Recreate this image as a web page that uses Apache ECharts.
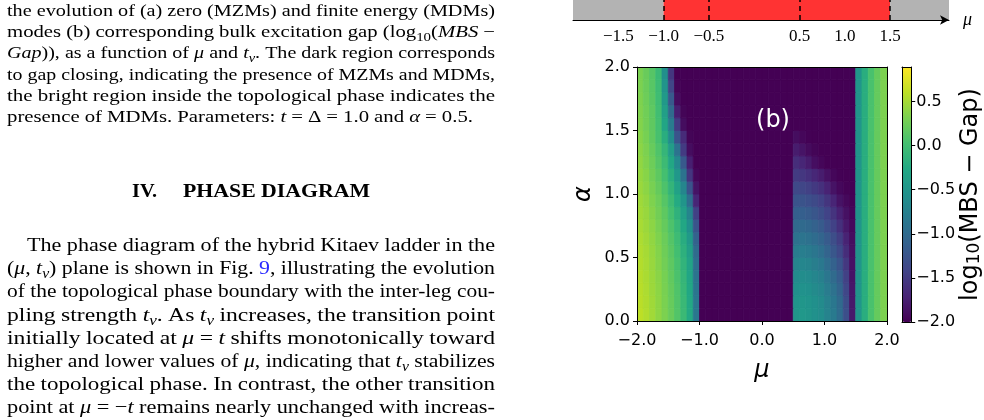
<!DOCTYPE html>
<html><head><meta charset="utf-8">
<script src="https://cdn.jsdelivr.net/npm/echarts@6/dist/echarts.min.js"></script>
<style>html,body{margin:0;padding:0;background:#fff}#c{width:984px;height:420px}</style>
</head><body><div id="c"></div>
<script>
// ---------- data ----------
const muCenters = [-1.95,-1.85,-1.75,-1.65,-1.55,-1.45,-1.35,-1.25,-1.15,-1.05,-0.95,-0.85,-0.75,-0.65,-0.55,-0.45,-0.35,-0.25,-0.15,-0.05,0.05,0.15,0.25,0.35,0.45,0.55,0.65,0.75,0.85,0.95,1.05,1.15,1.25,1.35,1.45,1.55,1.65,1.75,1.85,1.95];
const alphaCenters = [0.05,0.15,0.25,0.35,0.45,0.55,0.65,0.75,0.85,0.95,1.05,1.15,1.25,1.35,1.45,1.55,1.65,1.75,1.85,1.95];
// log10(MBS - Gap), one row per alpha (bottom to top), one column per mu
const mbsGapRows = [
[0.60,0.55,0.48,0.40,0.32,0.22,0.10,-0.05,-0.25,-0.85, -2,-2,-2,-2,-2, -2,-2,-2,-2,-2, -2,-2,-2,-2,-2, -0.50,-0.47,-0.50,-0.55,-0.60,-0.72,-0.82,-0.98,-1.30,-1.80, -0.50,-0.20,0.05,0.20,0.32],
[0.59,0.54,0.47,0.40,0.31,0.21,0.09,-0.06,-0.26,-0.86, -2,-2,-2,-2,-2, -2,-2,-2,-2,-2, -2,-2,-2,-2,-2, -0.52,-0.49,-0.52,-0.57,-0.62,-0.74,-0.85,-1.01,-1.33,-1.81, -0.50,-0.20,0.05,0.20,0.32],
[0.58,0.53,0.46,0.39,0.30,0.20,0.08,-0.08,-0.28,-0.88, -2,-2,-2,-2,-2, -2,-2,-2,-2,-2, -2,-2,-2,-2,-2, -0.57,-0.54,-0.57,-0.62,-0.68,-0.80,-0.91,-1.07,-1.39,-1.82, -0.50,-0.20,0.05,0.20,0.32],
[0.57,0.52,0.45,0.38,0.29,0.18,0.06,-0.10,-0.30,-0.90, -2,-2,-2,-2,-2, -2,-2,-2,-2,-2, -2,-2,-2,-2,-2, -0.63,-0.60,-0.63,-0.68,-0.75,-0.87,-0.99,-1.15,-1.45,-1.84, -0.50,-0.20,0.05,0.20,0.32],
[0.56,0.51,0.44,0.36,0.27,0.16,0.04,-0.13,-0.33,-0.95, -2,-2,-2,-2,-2, -2,-2,-2,-2,-2, -2,-2,-2,-2,-2, -0.71,-0.68,-0.71,-0.77,-0.84,-0.97,-1.10,-1.25,-1.53,-1.86, -0.50,-0.20,0.05,0.20,0.32],
[0.55,0.50,0.43,0.35,0.25,0.14,0.01,-0.16,-0.38,-1.00, -2,-2,-2,-2,-2, -2,-2,-2,-2,-2, -2,-2,-2,-2,-2, -0.80,-0.78,-0.81,-0.87,-0.95,-1.08,-1.22,-1.37,-1.63,-1.88, -0.50,-0.20,0.05,0.20,0.32],
[0.53,0.48,0.41,0.33,0.23,0.11,-0.03,-0.21,-0.45,-1.10, -2,-2,-2,-2,-2, -2,-2,-2,-2,-2, -2,-2,-2,-2,-2, -0.91,-0.89,-0.92,-0.98,-1.06,-1.18,-1.32,-1.48,-1.72,-1.90, -0.50,-0.20,0.05,0.20,0.32],
[0.51,0.46,0.39,0.30,0.20,0.07,-0.08,-0.28,-0.55,-1.25, -2,-2,-2,-2,-2, -2,-2,-2,-2,-2, -2,-2,-2,-2,-2, -1.02,-1.01,-1.04,-1.10,-1.18,-1.30,-1.44,-1.60,-1.80,-1.93, -0.50,-0.20,0.05,0.20,0.32],
[0.49,0.44,0.36,0.27,0.16,0.02,-0.15,-0.38,-0.70,-1.45, -2,-2,-2,-2,-2, -2,-2,-2,-2,-2, -2,-2,-2,-2,-2, -1.13,-1.13,-1.17,-1.23,-1.31,-1.43,-1.57,-1.73,-1.87,-1.96, -0.50,-0.20,0.05,0.20,0.32],
[0.47,0.42,0.33,0.24,0.12,-0.04,-0.24,-0.50,-0.95,-1.70, -2,-2,-2,-2,-2, -2,-2,-2,-2,-2, -2,-2,-2,-2,-2, -1.25,-1.26,-1.30,-1.36,-1.44,-1.56,-1.70,-1.85,-1.94,-1.99, -0.50,-0.20,0.05,0.20,0.32],
[0.45,0.39,0.30,0.20,0.07,-0.11,-0.35,-0.68,-1.25,-1.85, -2,-2,-2,-2,-2, -2,-2,-2,-2,-2, -2,-2,-2,-2,-2, -1.37,-1.40,-1.45,-1.52,-1.60,-1.72,-1.85,-1.94,-1.99,-2, -0.50,-0.20,0.05,0.20,0.32],
[0.43,0.37,0.27,0.16,0.02,-0.19,-0.48,-0.90,-1.55,-1.95, -2,-2,-2,-2,-2, -2,-2,-2,-2,-2, -2,-2,-2,-2,-2, -1.50,-1.54,-1.60,-1.68,-1.77,-1.87,-1.95,-1.99,-2,-2, -0.50,-0.20,0.05,0.20,0.32],
[0.41,0.34,0.24,0.12,-0.04,-0.28,-0.65,-1.20,-1.75,-2, -2,-2,-2,-2,-2, -2,-2,-2,-2,-2, -2,-2,-2,-2,-2, -1.63,-1.69,-1.78,-1.89,-1.96,-2,-2,-2,-2,-2, -0.50,-0.20,0.05,0.20,0.32],
[0.39,0.32,0.21,0.08,-0.10,-0.40,-0.90,-1.50,-1.90,-2, -2,-2,-2,-2,-2, -2,-2,-2,-2,-2, -2,-2,-2,-2,-2, -1.78,-1.84,-1.92,-1.97,-2,-2,-2,-2,-2,-2, -0.50,-0.20,0.05,0.20,0.32],
[0.37,0.29,0.18,0.04,-0.20,-0.60,-1.25,-1.65,-1.97,-2, -2,-2,-2,-2,-2, -2,-2,-2,-2,-2, -2,-2,-2,-2,-2, -1.90,-1.95,-1.99,-2,-2,-2,-2,-2,-2,-2, -0.50,-0.20,0.05,0.20,0.32],
[0.35,0.27,0.17,0.02,-0.30,-0.80,-1.50,-1.90,-2,-2, -2,-2,-2,-2,-2, -2,-2,-2,-2,-2, -2,-2,-2,-2,-2, -2,-2,-2,-2,-2,-2,-2,-2,-2,-2, -0.50,-0.20,0.05,0.20,0.32],
[0.34,0.26,0.16,0.00,-0.38,-1.00,-1.75,-1.97,-2,-2, -2,-2,-2,-2,-2, -2,-2,-2,-2,-2, -2,-2,-2,-2,-2, -2,-2,-2,-2,-2,-2,-2,-2,-2,-2, -0.50,-0.20,0.05,0.20,0.32],
[0.33,0.24,0.14,-0.02,-0.45,-1.20,-1.90,-2,-2,-2, -2,-2,-2,-2,-2, -2,-2,-2,-2,-2, -2,-2,-2,-2,-2, -2,-2,-2,-2,-2,-2,-2,-2,-2,-2, -0.50,-0.20,0.05,0.20,0.32],
[0.32,0.23,0.13,-0.03,-0.52,-1.40,-1.97,-2,-2,-2, -2,-2,-2,-2,-2, -2,-2,-2,-2,-2, -2,-2,-2,-2,-2, -2,-2,-2,-2,-2,-2,-2,-2,-2,-2, -0.50,-0.20,0.05,0.20,0.32],
[0.31,0.22,0.12,-0.05,-0.58,-1.55,-2,-2,-2,-2, -2,-2,-2,-2,-2, -2,-2,-2,-2,-2, -2,-2,-2,-2,-2, -2,-2,-2,-2,-2,-2,-2,-2,-2,-2, -0.50,-0.20,0.05,0.20,0.32]
];
const colorRange = [-2.0, 0.89];
const colorbarTicks = [-2.0,-1.5,-1.0,-0.5,0.0,0.5];
const muTicks = [-2.0,-1.0,0.0,1.0,2.0];
const alphaTicks = [0.0,0.5,1.0,1.5,2.0];
const phaseTickLabels = [-1.5,-1.0,-0.5,0.5,1.0,1.5];
const phaseAxisRange = [-2.0, 2.15];
const phaseSegments = [[-2.0,-1.0,0],[-1.0,1.5,1],[1.5,2.15,0]]; // 1 = topological
const phaseBoundaries = [-1.0,-0.5,0.5,1.5];
const captionLines = [
 "the evolution of (a) zero (MZMs) and finite energy (MDMs)",
 "modes (b) corresponding bulk excitation gap (log~10~(_MBS_ −",
 "_Gap_)), as a function of _μ_ and _t_^ν^. The dark region corresponds",
 "to gap closing, indicating the presence of MZMs and MDMs,",
 "the bright region inside the topological phase indicates the",
 "presence of MDMs. Parameters: _t_ = Δ = 1.0 and _α_ = 0.5."
];
const headingText = ["IV.", "PHASE DIAGRAM"];
const bodyLines = [
 "The phase diagram of the hybrid Kitaev ladder in the",
 "(_μ_, _t_^ν^) plane is shown in Fig. [9], illustrating the evolution",
 "of the topological phase boundary with the inter-leg cou-",
 "pling strength _t_^ν^. As _t_^ν^ increases, the transition point",
 "initially located at _μ_ = _t_ shifts monotonically toward",
 "higher and lower values of _μ_, indicating that _t_^ν^ stabilizes",
 "the topological phase. In contrast, the other transition",
 "point at _μ_ = −_t_ remains nearly unchanged with increas-"
];

// ---------- styling / layout ----------
const SANS = 'DejaVu Sans';
const SERIF = 'Liberation Serif';
const viridis = ['#440154','#482475','#414487','#355f8d','#2a788e','#21918c','#22a884','#44bf70','#7ad151','#bddf26','#fde725'];
const fmt = v => (v < 0 ? '\u2212' : '') + Math.abs(v).toFixed(1);

const heatData = [];
mbsGapRows.forEach((row, j) => row.forEach((v, i) => heatData.push([muCenters[i], alphaCenters[j], v])));
const halfMu = (muCenters[1] - muCenters[0]) / 2;
const halfAlpha = (alphaCenters[1] - alphaCenters[0]) / 2;

const mctx = document.createElement('canvas').getContext('2d');
function fontStr(p){ return (p.italic?'italic ':'') + (p.bold?'bold ':'') + p.size + 'px "' + SERIF + '"'; }
function measure(p){ mctx.font = fontStr(p); return mctx.measureText(p.t).width; }
function parse(token, size, bold){
  const out = []; const re = /_([^_]+)_|\^([^\^]+)\^|~([^~]+)~|\[([^\]]+)\]|([^_\^~\[]+)/g; let m;
  while ((m = re.exec(token))) {
    if (m[1]) out.push({t:m[1], italic:true, size, bold, dy:0});
    else if (m[2]) out.push({t:m[2], italic:true, size:size*0.72, bold, dy:size*0.2});
    else if (m[3]) out.push({t:m[3], italic:false, size:size*0.72, bold, dy:size*0.2});
    else if (m[4]) out.push({t:m[4], italic:false, size, bold, dy:0, color:'#2b2bff'});
    else out.push({t:m[5], italic:false, size, bold, dy:0});
  }
  return out;
}
function layoutLine(line, x0, x1, base, size, opts){
  opts = opts || {};
  const words = line.split(' ').map(w => { const ps = parse(w, size, opts.bold); ps.forEach(p => p.w = measure(p)); return {ps, w: ps.reduce((a,p)=>a+p.w,0)}; });
  const sum = words.reduce((a,w)=>a+w.w,0);
  mctx.font = fontStr({size, bold:opts.bold}); const sp = mctx.measureText(' ').width;
  const n = words.length - 1;
  let k = 1, gap = sp;
  if (n > 0) { k = Math.min(1.25, Math.max(0.95, (x1 - x0 - n*sp*1.15)/sum)); gap = (x1 - x0 - k*sum)/n; }
  else { k = (x1 - x0)/sum; }
  let x = x0; const els = [];
  words.forEach(w => { w.ps.forEach(p => {
    els.push({type:'text', x:x, y: base + p.dy - 0.3375*p.size, scaleX:k, silent:true,
      style:{text:p.t, fontSize:p.size, fontFamily:SERIF, fontStyle:p.italic?'italic':'normal', fontWeight:p.bold?'bold':'normal', fill:p.color||'#000', align:'left', verticalAlign:'middle'}});
    x += p.w*k; }); x += gap; });
  return els;
}
const graphics = [];
const capBase = [17, 38, 59.5, 81, 102, 123];
captionLines.forEach((l, i) => graphics.push(...layoutLine(l, 7, i === captionLines.length-1 ? 473 : 495, capBase[i], 17.5)));
graphics.push(...layoutLine(headingText[0], 132, 157, 198.3, 18, {bold:true}));
graphics.push(...layoutLine(headingText[1], 183, 370, 198.3, 18, {bold:true}));
bodyLines.forEach((l, i) => graphics.push(...layoutLine(l, i === 0 ? 27 : 7, 495, 252.5 + 23.17*i, 19)));
graphics.push({type:'text', x:773, y:121, z:100, silent:true, style:{text:'(b)', fontFamily:SANS, fontSize:24, fill:'#fff', align:'center', verticalAlign:'middle'}});

const lineOnly = (extra) => Object.assign({type:'value', z:10, axisLine:{show:true, onZero:false, lineStyle:{color:'#000', width:1}}, axisTick:{show:false}, axisLabel:{show:false}, splitLine:{show:false}}, extra);
const tickLabel = {color:'#000', fontFamily:SANS, fontSize:16};

const option = {
  animation:false,
  backgroundColor:'#fff',
  tooltip:{show:false},
  grid:[
    {left:637, top:67, width:250, height:254},
    {left:573, top:-30, width:376, height:50},
    {left:902, top:67, width:10, height:255}
  ],
  xAxis:[
    {type:'value', gridIndex:0, position:'bottom', min:muTicks[0], max:muTicks[muTicks.length-1], interval:1, z:10,
      axisLine:{show:true, onZero:false, lineStyle:{color:'#000', width:1}},
      axisTick:{show:true, inside:false, length:4, lineStyle:{color:'#000'}},
      axisLabel:Object.assign({formatter:fmt, margin:12}, tickLabel),
      splitLine:{show:false},
      name:'μ', nameLocation:'middle', nameGap:38,
      nameTextStyle:{fontFamily:SANS, fontStyle:'italic', fontSize:24, color:'#000'}},
    lineOnly({gridIndex:0, position:'top', min:-2, max:2}),
    {type:'value', gridIndex:1, position:'bottom', min:phaseAxisRange[0], max:phaseAxisRange[1], z:10,
      axisLine:{show:true, onZero:false, symbol:['none','arrow'], symbolSize:[7,9], lineStyle:{color:'#000', width:1}},
      axisTick:{show:false},
      axisLabel:{customValues:phaseTickLabels, formatter:fmt, fontFamily:SERIF, fontSize:17, color:'#000', margin:8},
      splitLine:{show:false},
      name:'μ', nameLocation:'end', nameGap:14,
      nameTextStyle:{fontFamily:SERIF, fontStyle:'italic', fontSize:18, color:'#000'}},
    lineOnly({gridIndex:2, position:'top', min:0, max:1}),
    lineOnly({gridIndex:2, position:'bottom', min:0, max:1})
  ],
  yAxis:[
    {type:'value', gridIndex:0, position:'left', min:alphaTicks[0], max:alphaTicks[alphaTicks.length-1], interval:0.5, z:10,
      axisLine:{show:true, onZero:false, lineStyle:{color:'#000', width:1}},
      axisTick:{show:true, inside:false, length:4, lineStyle:{color:'#000'}},
      axisLabel:Object.assign({formatter:fmt, margin:7}, tickLabel),
      splitLine:{show:false},
      name:'α', nameLocation:'middle', nameGap:41, nameRotate:90,
      nameTextStyle:{fontFamily:SANS, fontStyle:'italic', fontSize:24, color:'#000'}},
    lineOnly({gridIndex:0, position:'right', min:0, max:2}),
    {type:'value', gridIndex:1, position:'left', min:0, max:1, show:false},
    {type:'value', gridIndex:2, position:'right', min:colorRange[0], max:colorRange[1], z:10,
      axisLine:{show:true, onZero:false, lineStyle:{color:'#000', width:1}},
      axisTick:{show:true, inside:false, length:4, customValues:colorbarTicks, lineStyle:{color:'#000'}},
      axisLabel:Object.assign({customValues:colorbarTicks, formatter:fmt, margin:5}, tickLabel),
      splitLine:{show:false},
      name:'{a|log}{s|10}{a|(MBS \u2212 Gap)}', nameLocation:'middle', nameGap:44, nameRotate:90,
      nameTextStyle:{rich:{a:{fontFamily:SANS, fontSize:24, color:'#000', lineHeight:24}, s:{fontFamily:SANS, fontSize:17, color:'#000', lineHeight:14, verticalAlign:'bottom'}}}},
    lineOnly({gridIndex:2, position:'left', min:colorRange[0], max:colorRange[1]})
  ],
  visualMap:{type:'continuous', min:colorRange[0], max:colorRange[1], dimension:2, seriesIndex:0,
    calculable:false, show:true, orient:'vertical', left:902, top:67, itemWidth:10, itemHeight:255,
    padding:0, hoverLink:false, inRange:{color:viridis}},
  series:[
    {type:'custom', xAxisIndex:0, yAxisIndex:0, coordinateSystem:'cartesian2d', silent:true,
      data:heatData, encode:{x:0, y:1}, clip:true,
      renderItem:(params, api) => {
        const a = api.coord([api.value(0) - halfMu, api.value(1) + halfAlpha]);
        const b = api.coord([api.value(0) + halfMu, api.value(1) - halfAlpha]);
        const c = api.visual('color');
        return {type:'rect', shape:{x:a[0], y:a[1], width:b[0]-a[0], height:b[1]-a[1]},
          style:{fill:c, stroke:c, lineWidth:0.8}};
      }},
    {type:'custom', xAxisIndex:2, yAxisIndex:2, coordinateSystem:'cartesian2d', silent:true,
      data:phaseSegments, encode:{x:[0,1]},
      renderItem:(params, api) => {
        const p0 = api.coord([api.value(0), 1]);
        const p1 = api.coord([api.value(1), 0]);
        return {type:'rect', shape:{x:p0[0], y:p0[1], width:p1[0]-p0[0], height:p1[1]-p0[1]},
          style:{fill: api.value(2) ? '#ff3333' : '#b3b3b3'}};
      },
      markLine:{silent:true, symbol:['none','none'], label:{show:false},
        lineStyle:{color:'#000', type:[5,4], width:1.5}, data:phaseBoundaries.map(v => ({xAxis:v}))}}
  ],
  graphic:graphics
};
const chart = echarts.init(document.getElementById('c'), null, {renderer:'canvas'});
chart.setOption(option);
</script></body></html>
